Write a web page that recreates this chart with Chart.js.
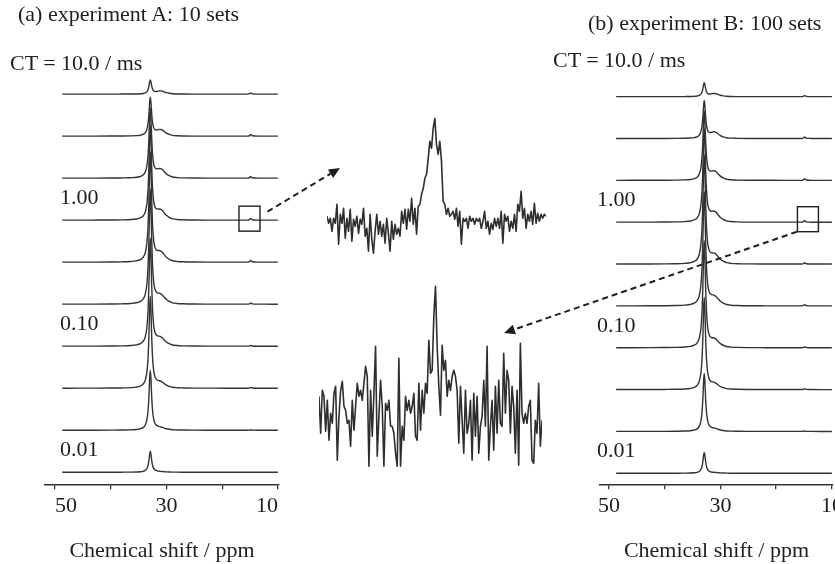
<!DOCTYPE html>
<html>
<head>
<meta charset="utf-8">
<script src="https://cdn.jsdelivr.net/npm/chart.js@4.4.1/dist/chart.umd.min.js"></script>
<style>
html, body { margin: 0; padding: 0; background: #fff; overflow: hidden; }
#page { position: relative; width: 835px; height: 564px; overflow: hidden; }
canvas { position: absolute; }
.lbl { position: absolute; font: 22px "Liberation Serif", "Times New Roman", serif; color: #1e1e1e; white-space: nowrap; line-height: 1; }
</style>
</head>
<body>
<div id="page">
  <canvas id="chartA" width="345" height="564" style="left:0;top:0"></canvas>
  <canvas id="chartB" width="370" height="564" style="left:495px;top:0"></canvas>
  <canvas id="insetTop" width="219" height="150" style="left:327px;top:108px"></canvas>
  <canvas id="insetBottom" width="223" height="190" style="left:319px;top:280px"></canvas>
  <div class="lbl" style="left:18px;top:3px">(a) experiment A: 10 sets</div>
  <div class="lbl" style="left:588px;top:12px">(b) experiment B: 100 sets</div>
  <div class="lbl" style="left:10px;top:52px">CT = 10.0 / ms</div>
  <div class="lbl" style="left:553px;top:49px">CT = 10.0 / ms</div>
</div>
<script>
// chemical shift grid (ppm) shared by all spectra
const ppm = [48.7, 46, 43, 40, 38, 36.4, 35.4, 34.7, 34.2, 33.8, 33.5, 33.3, 33.15, 33.0, 32.9, 32.8, 32.65, 32.5, 32.3, 32.1,
  31.9, 31.6, 31.3, 31.0, 30.7, 30.4, 30.0, 29.5, 28.9, 28.1, 27, 25, 22, 19, 16.5, 15.4, 15.1, 14.9, 14.6, 13.5, 12, 10];

// normalised line shapes
const mainPeak = [0.0003, 0.0005, 0.0008, 0.0016, 0.003, 0.0064, 0.0124, 0.024, 0.044, 0.088, 0.18, 0.33, 0.56, 0.89, 1, 0.89, 0.56, 0.33, 0.18, 0.11,
  0.073, 0.044, 0.03, 0.021, 0.016, 0.012, 0.009, 0.0067, 0.0049, 0.0034, 0.0022, 0.0012, 0.0006, 0.0004, 0.0003, 0.0003, 0.0003, 0.0003, 0.0003, 0.0002, 0.0001, 0];
const shoulder = [0, 0, 0, 0, 0, 0, 0, 0, 0, 0, 0.01, 0.02, 0.03, 0.05, 0.06, 0.08, 0.12, 0.17, 0.26, 0.4,
  0.55, 0.78, 0.95, 1.0, 0.9, 0.7, 0.45, 0.25, 0.1, 0.04, 0.015, 0, 0, 0, 0, 0, 0, 0, 0, 0, 0, 0];
const blip = [0, 0, 0, 0, 0, 0, 0, 0, 0, 0, 0, 0, 0, 0, 0, 0, 0, 0, 0, 0,
  0, 0, 0, 0, 0, 0, 0, 0, 0, 0, 0, 0, 0, 0, 0, 0, 0.3, 1, 0.2, 0, 0, 0];

// peak heights per trace (top: CT = 10.0 ms ... bottom: 0.01 ms), in trace spacings
const mainA = [0.33, 0.92, 1.66, 2.25, 2.61, 2.73, 2.56, 2.18, 1.42, 0.5];
const shoulderA = [0.07, 0.14, 0.19, 0.21, 0.21, 0.19, 0.17, 0.12, 0.05, 0.01];
const blipA = [0.03, 0.04, 0.04, 0.04, 0.04, 0.03, 0.02, 0.02, 0.01, 0];
const mainB = [0.33, 0.9, 1.65, 2.25, 2.6, 2.72, 2.55, 2.2, 1.38, 0.5];
const shoulderB = [0.07, 0.14, 0.19, 0.21, 0.2, 0.19, 0.17, 0.12, 0.05, 0.01];
const blipB = [0.03, 0.04, 0.04, 0.04, 0.03, 0.03, 0.02, 0.02, 0.01, 0];

const levelLabels = ['', '', '', '1.00', '', '', '0.10', '', '', '0.01'];
const xTicks = [10, 20, 30, 40, 50];
const xTickLabels = [50, 30, 10];

// zoomed baseline regions (intensity, arbitrary units)
const insetTop = [5, -2, 3, -10, 3, -2, 17, -23, 7, -2, 13, -17, 3, -10, 12, -20, 2, -5, 5, -12, 2, -3, 13, -15, -7, -30, 7, -18, -32, -10,
  7, -13, 0, -15, -3, -22, 3, -12, -30, 0, -18, -3, -13, -7, -15, 10, -2, 12, -8, 12, 0, 23, -3, 13, -13, 15, 17, 27, 33, 43,
  47, 63, 80, 73, 93, 103, 77, 67, 80, 60, 20, 17, 7, 13, 5, 7, 10, 2, 13, -5, 10, -23, 3, 0, 3, -7, 5, 0, 3, -3,
  3, 0, 3, -7, 0, 10, -7, 0, -13, -2, -8, 3, -5, 3, -7, 10, -22, 7, 0, 5, -10, 0, -7, 7, -10, 17, 10, 30, 3, 13,
  -7, 7, 0, 10, -3, 18, -2, 8, 0, 7, 3, 7, 5];
const insetBottom = [17, -20, 23, 17, -18, 13, -27, 0, -10, 20, 27, -47, -3, 23, 32, 7, 3, -10, -7, -33, 13, -17, 7, 30, 17, 23, 13, 30, 47, 37,
  -53, 23, -23, 20, 67, -43, -3, 33, 7, -53, 10, 3, 13, -13, -13, -20, -40, -53, 55, -53, -13, -27, 17, 3, 13, 0, 7, 20, -23, -27,
  30, -17, 23, 0, 30, 20, 73, 40, 43, 97, 127, 67, 27, -2, 68, 43, 53, 17, 33, 23, 37, 43, 37, 23, -30, 27, -7, -40, 23, -20,
  -10, 13, -47, 20, -23, 17, -40, -13, -3, 33, -13, 67, -47, -13, 13, -37, 27, -20, 33, -10, -13, 60, 0, 43, 33, -20, 27, 7, -40, 23,
  -52, 70, 0, -10, 0, -10, 7, 13, -47, -50, -7, -20, 30, -33, -7];

Chart.defaults.font.family = '"Liberation Serif", "Times New Roman", serif';
Chart.defaults.color = '#1e1e1e';

const lineColor = '#333';
const n = mainA.length;

function stackedSets(main, sh, bl) {
  return main.map((h, i) => {
    const offset = n - 1 - i;
    return {
      data: ppm.map((x, j) => ({ x: x, y: offset + h * mainPeak[j] + sh[i] * shoulder[j] + bl[i] * blip[j] })),
      borderColor: lineColor,
      borderWidth: 1.4,
      pointRadius: 0,
      cubicInterpolationMode: 'monotone',
      clip: false
    };
  });
}

function dashedArrow(ctx, x1, y1, x2, y2) {
  const ang = Math.atan2(y2 - y1, x2 - x1);
  const head = 11, half = 5;
  const bx = x2 - head * Math.cos(ang), by = y2 - head * Math.sin(ang);
  ctx.save();
  ctx.strokeStyle = '#1e1e1e';
  ctx.fillStyle = '#1e1e1e';
  ctx.lineWidth = 2;
  ctx.setLineDash([6, 4]);
  ctx.beginPath();
  ctx.moveTo(x1, y1);
  ctx.lineTo(bx, by);
  ctx.stroke();
  ctx.setLineDash([]);
  ctx.beginPath();
  ctx.moveTo(x2, y2);
  ctx.lineTo(bx + half * Math.sin(ang), by - half * Math.cos(ang));
  ctx.lineTo(bx - half * Math.sin(ang), by + half * Math.cos(ang));
  ctx.closePath();
  ctx.fill();
  ctx.restore();
}

// box on the 1.00 ms trace, arrow to the zoomed inset, level labels
function overlay(opts) {
  return {
    id: 'overlay',
    afterDatasetsDraw(chart) {
      const ctx = chart.ctx;
      const xs = chart.scales.x, ys = chart.scales.y;
      ctx.save();
      ctx.font = '22px "Liberation Serif", "Times New Roman", serif';
      ctx.fillStyle = '#1e1e1e';
      ctx.textAlign = 'left';
      ctx.textBaseline = 'alphabetic';
      levelLabels.forEach((t, i) => {
        if (t) ctx.fillText(t, opts.labelX, ys.getPixelForValue(n - 1 - i) - 16);
      });
      const cx = xs.getPixelForValue(opts.boxPpm);
      const cy = ys.getPixelForValue(n - 1 - 3) - opts.boxLift;
      ctx.strokeStyle = '#1e1e1e';
      ctx.lineWidth = 1.4;
      ctx.strokeRect(cx - 10.5, cy - 12.5, 21, 25);
      ctx.restore();
      dashedArrow(ctx, cx + opts.from[0], cy + opts.from[1], opts.to[0], opts.to[1]);
    }
  };
}

function panelOptions(xMin, xMax, yMin, yMax, pad, align) {
  return {
    responsive: false,
    animation: false,
    events: [],
    layout: { padding: pad },
    plugins: { legend: { display: false }, tooltip: { enabled: false } },
    scales: {
      x: {
        type: 'linear', min: xMin, max: xMax, reverse: true,
        afterBuildTicks: s => { s.ticks = xTicks.map(v => ({ value: v })); },
        ticks: {
          callback: v => xTickLabels.includes(v) ? String(v) : '',
          align: align, padding: 4, autoSkip: false, maxRotation: 0,
          color: '#1e1e1e', font: { size: 22, lineHeight: 1.2 }
        },
        grid: { drawOnChartArea: false, tickLength: 5, color: '#333', lineWidth: 1.3 },
        border: { color: '#333', width: 1.4 },
        title: { display: true, text: 'Chemical shift / ppm', color: '#1e1e1e', font: { size: 22, lineHeight: 1.2 }, padding: { top: 14, bottom: 0 } }
      },
      y: { display: false, min: yMin, max: yMax }
    }
  };
}

new Chart(document.getElementById('chartA'), {
  type: 'line',
  data: { datasets: stackedSets(mainA, shoulderA, blipA) },
  options: panelOptions(9.8, 51.8, -0.2846, 11.24, { left: 45, right: 66, top: 0, bottom: 0 }, 'inner'),
  plugins: [overlay({ labelX: 60, boxPpm: 15.1, boxLift: 1.5, from: [18, -7], to: [340, 168] })]
});

new Chart(document.getElementById('chartB'), {
  type: 'line',
  data: { datasets: stackedSets(mainB, shoulderB, blipB) },
  options: panelOptions(9.8, 51.6, -0.261, 11.31, { left: 105, right: 32, top: 0, bottom: 0 }, 'center'),
  plugins: [overlay({ labelX: 102, boxPpm: 14.3, boxLift: 3, from: [-11, 12.5], to: [9, 333] })]
});

function insetChart(id, values, yMin, yMax) {
  new Chart(document.getElementById(id), {
    type: 'line',
    data: {
      datasets: [{
        data: values.map((v, i) => ({ x: i, y: v })),
        borderColor: '#2e2e2e', borderWidth: 1.6, borderJoinStyle: 'round',
        pointRadius: 0, tension: 0, clip: false
      }]
    },
    options: {
      responsive: false, animation: false, events: [],
      plugins: { legend: { display: false }, tooltip: { enabled: false } },
      scales: {
        x: { type: 'linear', display: false, min: 0, max: values.length - 1 },
        y: { display: false, min: yMin, max: yMax }
      }
    }
  });
}

insetChart('insetTop', insetTop, -36.7, 113.3);
insetChart('insetBottom', insetBottom, -56.7, 133.3);
</script>
</body>
</html>
